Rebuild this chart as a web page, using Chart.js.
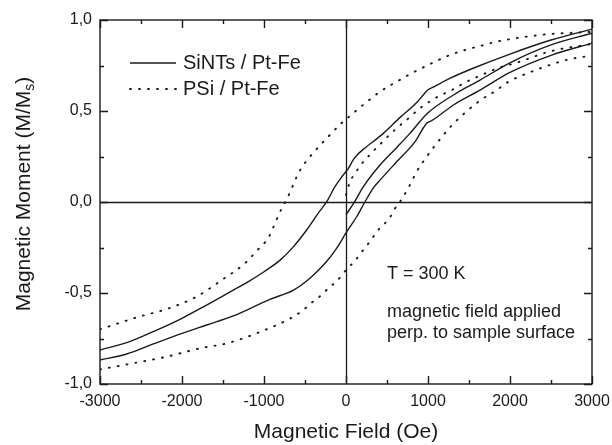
<!DOCTYPE html>
<html>
<head>
<meta charset="utf-8">
<script src="https://cdn.jsdelivr.net/npm/chart.js@4.4.1/dist/chart.umd.min.js"></script>
<style>
  html, body { margin: 0; padding: 0; background: #fff; }
  #wrap { width: 612px; height: 445px; }
</style>
</head>
<body>
<div id="wrap"><canvas id="hysteresis-chart" width="612" height="445"></canvas></div>
<script>
// ------------------------
// DATA (field in Oe, moment in M/Ms)
// ------------------------

const fieldTicks = [-3000, -2000, -1000, 0, 1000, 2000, 3000];
const fieldTickLabels = ["-3000", "-2000", "-1000", "0", "1000", "2000", "3000"];
const fieldMinorTicks = [-2500, -1500, -500, 500, 1500, 2500];

const momentTicks = [-1, -0.5, 0, 0.5, 1];
const momentTickLabels = ["-1,0", "-0,5", "0,0", "0,5", "1,0"];
const momentMinorTicks = [-0.75, -0.25, 0.25, 0.75];

// SiNTs / Pt-Fe : upper (descending) branch
const siUpperField = [-3000, -2675, -2350, -2000, -1700, -1375, -1200, -1000, -800, -640, -480, -340, -235, -135, -50, 30, 100, 250, 330, 455, 660, 860, 960, 1000, 1050, 1270, 1550, 2000, 2500, 3000];
const siUpperMoment = [-0.813, -0.773, -0.712, -0.639, -0.566, -0.484, -0.44, -0.383, -0.318, -0.245, -0.154, -0.062, 0.002, 0.084, 0.139, 0.185, 0.24, 0.304, 0.331, 0.377, 0.465, 0.545, 0.598, 0.617, 0.628, 0.68, 0.735, 0.813, 0.89, 0.95];

// SiNTs / Pt-Fe : lower (ascending) branch
const siLowerField = [-3000, -2675, -2350, -2000, -1700, -1375, -1050, -930, -640, -440, -255, -115, 0, 130, 230, 330, 415, 620, 840, 950, 990, 1050, 1310, 1635, 2000, 2500, 3000];
const siLowerMoment = [-0.868, -0.835, -0.78, -0.722, -0.676, -0.626, -0.56, -0.535, -0.484, -0.419, -0.337, -0.255, -0.17, -0.081, 0.0, 0.075, 0.12, 0.222, 0.33, 0.412, 0.435, 0.448, 0.533, 0.615, 0.712, 0.806, 0.873];

// SiNTs / Pt-Fe : initial curve
const siInitField = [0, 110, 210, 415, 620, 780, 1000, 1310, 1635, 2000, 2500, 3000];
const siInitMoment = [-0.07, 0.005, 0.083, 0.203, 0.30, 0.377, 0.49, 0.588, 0.67, 0.765, 0.863, 0.927];

// PSi / Pt-Fe : upper (descending) branch
const psiUpperField = [-3000, -2553, -2187, -1821, -1516, -1232, -1070, -990, -935, -866, -784, -732, -683, -642, -601, -553, -488, -411, -236, -53, 49, 232, 415, 618, 800, 1085, 1268, 1451, 1634, 1838, 2400, 3000];
const psiUpperMoment = [-0.70, -0.634, -0.588, -0.52, -0.429, -0.337, -0.26, -0.223, -0.187, -0.117, -0.035, 0.007, 0.053, 0.097, 0.139, 0.18, 0.222, 0.264, 0.35, 0.434, 0.473, 0.542, 0.606, 0.661, 0.707, 0.771, 0.808, 0.835, 0.857, 0.881, 0.919, 0.935];

// PSi / Pt-Fe : lower (ascending) branch
const psiLowerField = [-3000, -2594, -2187, -1780, -1455, -1070, -640, -520, -378, -297, -216, -134, -53, 16, 102, 171, 244, 313, 374, 455, 537, 598, 659, 768, 862, 963, 1085, 1268, 1451, 1634, 1838, 1960, 2284, 2500, 2700, 3000];
const psiLowerMoment = [-0.92, -0.886, -0.85, -0.804, -0.777, -0.718, -0.63, -0.593, -0.538, -0.511, -0.474, -0.443, -0.405, -0.364, -0.328, -0.286, -0.245, -0.205, -0.163, -0.126, -0.084, -0.035, 0.002, 0.084, 0.167, 0.235, 0.31, 0.41, 0.49, 0.557, 0.615, 0.655, 0.72, 0.755, 0.782, 0.805];

// PSi / Pt-Fe : initial curve
const psiInitField = [0, 49, 110, 179, 260, 346, 435, 528, 630, 740, 902, 1085, 1289, 1472, 1655, 1878, 2041, 2528, 3000];
const psiInitMoment = [0.04, 0.112, 0.156, 0.203, 0.244, 0.286, 0.326, 0.368, 0.41, 0.451, 0.515, 0.57, 0.615, 0.661, 0.698, 0.74, 0.76, 0.832, 0.868];

const legendLabels = ["SiNTs / Pt-Fe", "PSi / Pt-Fe"];
const noteLines = ["T = 300 K", "magnetic field applied", "perp. to sample surface"];

// ------------------------
// STYLE
// ------------------------

const INK = "#1a1a1a";
const FONT = "'Liberation Sans', Arial, Helvetica, sans-serif";

const solidStyle = { borderColor: INK, borderWidth: 1.4, borderDash: [] };
const dottedStyle = { borderColor: INK, borderWidth: 1.9, borderDash: [1, 8], borderCapStyle: "round" };

function toPoints(xs, ys) {
    return xs.map((x, i) => ({ x, y: ys[i] }));
}

function curve(label, xs, ys, style) {
    return {
        label,
        data: toPoints(xs, ys),
        showLine: true,
        pointRadius: 0,
        cubicInterpolationMode: "monotone",
        fill: false,
        ...style
    };
}

// ------------------------
// DECORATION PLUGIN (frame, ticks, titles, legend, notes)
// ------------------------

const decorPlugin = {
    id: "decor",

    beforeDatasetsDraw(chart) {
        const { ctx, chartArea: a, scales: { x, y } } = chart;
        const x0 = Math.round(x.getPixelForValue(0)) + 0.5;
        const y0 = Math.round(y.getPixelForValue(0)) + 0.5;
        ctx.save();
        ctx.strokeStyle = INK;
        ctx.lineWidth = 1.3;
        ctx.beginPath();
        ctx.moveTo(a.left, y0); ctx.lineTo(a.right, y0);
        ctx.moveTo(x0, a.top); ctx.lineTo(x0, a.bottom);
        ctx.stroke();
        ctx.restore();
    },

    afterDatasetsDraw(chart) {
        const { ctx, chartArea: a, scales: { x, y } } = chart;
        const major = 8, minor = 4;

        ctx.save();
        ctx.strokeStyle = INK;
        ctx.lineWidth = 1.4;
        ctx.strokeRect(a.left, a.top, a.right - a.left, a.bottom - a.top);

        ctx.beginPath();
        const xTick = (v, len) => {
            const p = Math.round(x.getPixelForValue(v)) + 0.5;
            ctx.moveTo(p, a.bottom); ctx.lineTo(p, a.bottom - len);
            ctx.moveTo(p, a.top); ctx.lineTo(p, a.top + len);
        };
        const yTick = (v, len) => {
            const p = Math.round(y.getPixelForValue(v)) + 0.5;
            ctx.moveTo(a.left, p); ctx.lineTo(a.left + len, p);
            ctx.moveTo(a.right, p); ctx.lineTo(a.right - len, p);
        };
        fieldTicks.forEach(v => xTick(v, major));
        fieldMinorTicks.forEach(v => xTick(v, minor));
        momentTicks.forEach(v => yTick(v, major));
        momentMinorTicks.forEach(v => yTick(v, minor));
        ctx.stroke();
        ctx.restore();
    },

    afterDraw(chart) {
        const { ctx, chartArea: a, scales: { x, y } } = chart;
        ctx.save();
        ctx.fillStyle = INK;

        // x title
        ctx.font = `21px ${FONT}`;
        ctx.textAlign = "center";
        ctx.textBaseline = "middle";
        ctx.fillText("Magnetic Field (Oe)", (a.left + a.right) / 2, 432);

        // y title with subscript s
        ctx.save();
        ctx.translate(24, 194);
        ctx.rotate(-Math.PI / 2);
        ctx.textAlign = "left";
        ctx.textBaseline = "middle";
        const main = "Magnetic Moment (M/M";
        ctx.font = `21px ${FONT}`;
        const w1 = ctx.measureText(main).width;
        const w3 = ctx.measureText(")").width;
        ctx.font = `14px ${FONT}`;
        const w2 = ctx.measureText("s").width;
        let start = -(w1 + w2 + w3) / 2;
        ctx.font = `21px ${FONT}`;
        ctx.fillText(main, start, 0);
        ctx.font = `14px ${FONT}`;
        ctx.fillText("s", start + w1, 6);
        ctx.font = `21px ${FONT}`;
        ctx.fillText(")", start + w1 + w2, 0);
        ctx.restore();

        // legend
        const ds = chart.data.datasets;
        const legendRows = [ds[0], ds[3]];
        ctx.font = `20px ${FONT}`;
        ctx.textAlign = "left";
        ctx.textBaseline = "middle";
        legendRows.forEach((d, i) => {
            const ly = a.top + 43 + i * 26;
            ctx.save();
            ctx.strokeStyle = d.borderColor;
            ctx.lineWidth = d.borderWidth;
            ctx.setLineDash(d.borderDash);
            ctx.lineCap = d.borderCapStyle || "butt";
            ctx.beginPath();
            ctx.moveTo(a.left + 30, ly);
            ctx.lineTo(a.left + 76, ly);
            ctx.stroke();
            ctx.restore();
            ctx.fillText(legendLabels[i], a.left + 83, ly);
        });

        // notes
        const nx = x.getPixelForValue(500);
        ctx.font = `18px ${FONT}`;
        ctx.fillText(noteLines[0], nx, y.getPixelForValue(-0.396));
        ctx.fillText(noteLines[1], nx, y.getPixelForValue(-0.603));
        ctx.fillText(noteLines[2], nx, y.getPixelForValue(-0.72));

        ctx.restore();
    }
};

// ------------------------
// CHART
// ------------------------

const ctx = document.getElementById("hysteresis-chart").getContext("2d");

new Chart(ctx, {
    type: "scatter",
    data: {
        datasets: [
            curve(legendLabels[0], siUpperField, siUpperMoment, solidStyle),
            curve(legendLabels[0], siLowerField, siLowerMoment, solidStyle),
            curve(legendLabels[0], siInitField, siInitMoment, solidStyle),
            curve(legendLabels[1], psiUpperField, psiUpperMoment, dottedStyle),
            curve(legendLabels[1], psiLowerField, psiLowerMoment, dottedStyle),
            curve(legendLabels[1], psiInitField, psiInitMoment, dottedStyle)
        ]
    },
    options: {
        responsive: false,
        animation: false,
        devicePixelRatio: 1,
        layout: { padding: { top: 20, right: 20, bottom: 0, left: 0 } },
        plugins: {
            legend: { display: false },
            tooltip: { enabled: false }
        },
        scales: {
            x: {
                type: "linear",
                min: -3000,
                max: 3000,
                grid: { display: false, drawTicks: false },
                border: { display: false },
                afterBuildTicks: s => { s.ticks = fieldTicks.map(v => ({ value: v })); },
                afterFit: s => { s.height = 61; s.paddingLeft = 0; s.paddingRight = 0; },
                ticks: {
                    padding: 8,
                    color: INK,
                    font: { family: FONT, size: 16 },
                    maxRotation: 0,
                    callback: (v, i) => fieldTickLabels[i]
                }
            },
            y: {
                type: "linear",
                min: -1,
                max: 1,
                grid: { display: false, drawTicks: false },
                border: { display: false },
                afterBuildTicks: s => { s.ticks = momentTicks.map(v => ({ value: v })); },
                afterFit: s => { s.width = 100; s.paddingTop = 0; s.paddingBottom = 0; },
                ticks: {
                    padding: 8,
                    color: INK,
                    font: { family: FONT, size: 16 },
                    callback: (v, i) => momentTickLabels[i]
                }
            }
        }
    },
    plugins: [decorPlugin]
});
</script>
</body>
</html>
